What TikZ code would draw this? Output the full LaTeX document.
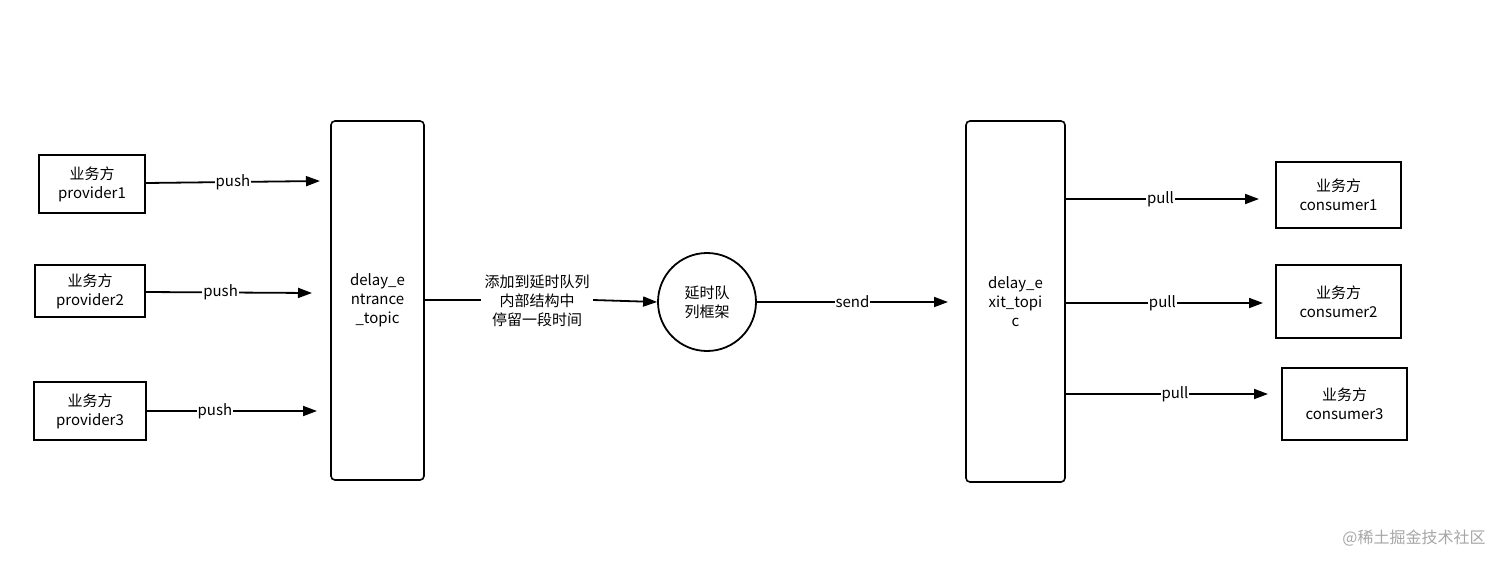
\documentclass[tikz,border=0pt]{standalone}
\usepackage{fontspec}
\setmainfont{Noto Sans CJK SC}
\usetikzlibrary{arrows.meta}
\begin{document}
\begin{tikzpicture}[x=1pt,y=-1pt,
  every node/.style={font=\fontsize{15}{19}\selectfont},
  box/.style={draw,line width=1.6pt,align=center,inner sep=0pt},
  tall/.style={box,rounded corners=4pt},
  arr/.style={line width=1.8pt,-{Stealth[length=14pt,width=10pt,inset=0pt]}},
  lab/.style={fill=white,inner sep=1pt}]
\useasboundingbox (0,0) rectangle (1512,565);
\node[box,minimum width=106pt,minimum height=58pt] (p1) at (92,184) {业务方\\provider1};
\node[box,minimum width=110pt,minimum height=52pt] (p2) at (90,291) {业务方\\provider2};
\node[box,minimum width=112pt,minimum height=58pt] (p3) at (90,411) {业务方\\provider3};
\node[tall,minimum width=93pt,minimum height=359pt] (en) at (377.5,300.5) {delay\_e\\ntrance\\\_topic};
\node[tall,minimum width=99pt,minimum height=361pt] (ex) at (1015.5,301.5) {delay\_e\\xit\_topi\\c};
\node[draw,circle,line width=1.8pt,minimum size=98pt,align=center,inner sep=0pt] (c) at (707,302) {延时队\\列框架};
\node[align=center] (t) at (537,301) {添加到延时队列\\内部结构中\\停留一段时间};
\node[box,minimum width=125pt,minimum height=66pt] (c1) at (1338.5,195) {业务方\\consumer1};
\node[box,minimum width=125pt,minimum height=73pt] (c2) at (1338.5,301.5) {业务方\\consumer2};
\node[box,minimum width=125pt,minimum height=72pt] (c3) at (1344.5,404) {业务方\\consumer3};
\coordinate (a1) at (320,181); \coordinate (a2) at (312,293); \coordinate (a3) at (317,411);
\draw[arr] (p1.east|-0,183) -- node[lab]{push} (a1);
\draw[arr] (p2.east|-0,292) -- node[lab,pos=0.45]{push} (a2);
\draw[arr] (p3.east|-0,411) -- node[lab,pos=0.4]{push} (a3);
\draw[line width=1.8pt] (en.east|-0,300) -- (t.west|-0,300);
\draw[arr] (t.east|-0,300) -- (c.west);
\draw[arr] (c.east) -- node[lab,pos=0.5]{send} (948,302);
\coordinate (b1) at (1259,199); \coordinate (b2) at (1263,303); \coordinate (b3) at (1268,394);
\draw[arr] (ex.east|-b1) -- node[lab,pos=0.49]{pull} (b1);
\draw[arr] (ex.east|-b2) -- node[lab,pos=0.49]{pull} (b2);
\draw[arr] (ex.east|-b3) -- node[lab,pos=0.54]{pull} (b3);
\node[text=gray!70,font=\fontsize{16}{18}\selectfont] (w) at (1414,538) {@稀土掘金技术社区};
\end{tikzpicture}
\end{document}
